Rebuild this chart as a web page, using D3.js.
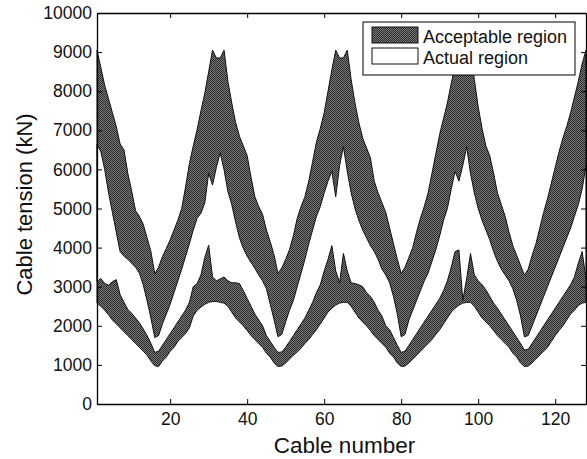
<!DOCTYPE html>
<html>
<head>
<meta charset="utf-8">
<script src="https://cdn.jsdelivr.net/npm/d3@7"></script>
<style>
  body { margin: 0; background: #fff; }
  text { font-family: "Liberation Sans", Arial, sans-serif; fill: #111; }
</style>
</head>
<body>
<div id="chart"></div>
<script>
// data (kN), cable 1..128
const cables = d3.range(1, 129);

const upperAcceptable = [
  9050, 8600, 8150, 7800, 7450, 7100, 6650, 6500, 5900, 5450, 4950, 4800, 4600, 4250, 3900, 3330,
  3500, 3770, 3980, 4200, 4450, 4700, 5000, 5550, 6150, 6600, 7020, 7500, 7950, 8500, 9050, 8850, 8850, 9050,
  8250, 7700, 7200, 6850, 6600, 6350, 5800, 5300, 5050, 4850, 4450, 4150, 3800, 3340,
  3480, 3700, 3950, 4300, 4750, 5050, 5300, 5700, 6200, 6700, 7050, 7450, 8000, 8550, 9050, 8850, 8850, 9050,
  8300, 7700, 7200, 6800, 6550, 6300, 5700, 5400, 5150, 4900, 4500, 4100, 3700, 3340,
  3500, 3750, 4000, 4400, 4750, 5050, 5400, 5900, 6400, 6900, 7300, 7700, 8200, 8650, 9050, 8850, 8850, 9050,
  8300, 7600, 7050, 6600, 6350, 5900, 5400, 5100, 4800, 4400, 4050, 3800, 3550, 3300,
  3450, 3800, 4100, 4500, 4900, 5250, 5650, 6050, 6450, 6800, 7100, 7450, 7850, 8250, 8700, 9050
];
const lowerAcceptable = [
  2580, 2500, 2400, 2280, 2150, 2050, 1950, 1850, 1750, 1650, 1550, 1450, 1350, 1250, 1100, 980,
  960, 1100, 1200, 1350, 1450, 1600, 1700, 1800, 1950, 2250, 2400, 2480, 2550, 2600, 2620, 2620, 2600, 2580,
  2500, 2350, 2200, 2100, 2000, 1880, 1750, 1650, 1550, 1450, 1300, 1200, 1050, 960,
  970, 1050, 1150, 1250, 1330, 1430, 1550, 1650, 1780, 1900, 2050, 2200, 2350, 2450, 2530, 2580, 2600, 2600,
  2500, 2350, 2200, 2100, 2000, 1880, 1750, 1650, 1550, 1450, 1300, 1200, 1050, 960,
  970, 1050, 1150, 1250, 1350, 1450, 1550, 1650, 1780, 1900, 2050, 2200, 2350, 2450, 2530, 2580, 2600, 2600,
  2500, 2350, 2200, 2100, 2000, 1880, 1750, 1650, 1550, 1450, 1300, 1200, 1050, 960,
  970, 1050, 1150, 1250, 1350, 1450, 1600, 1750, 1880, 2000, 2150, 2300, 2400, 2520, 2580, 2600
];
const upperActual = [
  6650, 6450, 6000, 5400, 4900, 4400, 3900, 3780, 3700, 3600, 3500, 3350, 3050, 2650, 2200, 1700,
  1750, 2050, 2300, 2550, 2850, 3150, 3450, 3770, 4100, 4450, 4750, 4880, 5150, 5900, 5600, 6050, 6420, 5990,
  5430, 5100, 4650, 4250, 3980, 3780, 3620, 3470, 3300, 3150, 2950, 2550, 2150, 1720,
  1780, 2100, 2400, 2650, 3000, 3350, 3700, 4100, 4450, 4800, 5050, 5400, 5700, 5950, 5300, 6100, 6580, 5950,
  5400, 5000, 4700, 4450, 4250, 4050, 3900, 3700, 3450, 3300, 3100, 2750, 2300, 1720,
  1780, 2150, 2400, 2650, 2900, 3150, 3350, 3650, 3950, 4300, 4700, 5000, 5500, 5950, 5700, 6100, 6580, 5900,
  5400, 5000, 4700, 4450, 4200, 3900, 3650, 3450, 3300, 3150, 2950, 2650, 2250, 1720,
  1750, 2000, 2250, 2500, 2750, 3000, 3250, 3500, 3750, 4000, 4250, 4500, 4800, 5100, 5500, 6100
];
const lowerActual = [
  3130, 3210, 3080, 3040, 3130, 3180, 2800, 2600, 2420, 2320, 2200, 2080, 1920, 1750, 1550, 1320,
  1350, 1500, 1650, 1800, 1950, 2100, 2250, 2400, 2600, 3000, 3080, 3300, 3750, 4060, 3250, 3150, 3200, 3250,
  3150, 3100, 3100, 3080, 2900, 2700, 2500, 2300, 2150, 2000, 1750, 1600, 1450, 1320,
  1330, 1450, 1600, 1750, 1900, 2050, 2200, 2400, 2600, 2850, 3050, 3400, 3700, 4050, 3400, 3100, 3850, 3400,
  3100, 3080, 3050, 3000, 2850, 2750, 2600, 2400, 2250, 2000, 1900, 1700, 1500, 1320,
  1350, 1500, 1650, 1800, 1950, 2100, 2250, 2400, 2550, 2700, 2900, 3150, 3500, 3900, 3940, 2650, 3200, 3850,
  3300, 3150, 3050, 2920, 2750, 2580, 2450, 2300, 2150, 2000, 1850, 1700, 1550, 1380,
  1400, 1550, 1700, 1850, 2000, 2150, 2300, 2450, 2600, 2750, 2900, 3050, 3250, 3600, 3900, 3200
];

const xTicks = [20, 40, 60, 80, 100, 120];
const yTicks = [0, 1000, 2000, 3000, 4000, 5000, 6000, 7000, 8000, 9000, 10000];
const legendLabels = ["Acceptable region", "Actual region"];

// layout
const W = 587, H = 459;
const margin = {top: 13, right: 1, bottom: 55, left: 97};
const width = W - margin.left - margin.right,
      height = H - margin.top - margin.bottom;

const svg = d3.select("#chart").append("svg")
  .attr("width", W)
  .attr("height", H);

// halftone-ish fill like the printed figure
const defs = svg.append("defs");
const pat = defs.append("pattern")
  .attr("id", "dots")
  .attr("width", 2).attr("height", 2)
  .attr("patternUnits", "userSpaceOnUse");
pat.append("rect").attr("width", 2).attr("height", 2).attr("fill", "#7a7a7a");
pat.append("rect").attr("width", 1).attr("height", 1).attr("fill", "#2b2b2b");
pat.append("rect").attr("x", 1).attr("y", 1).attr("width", 1).attr("height", 1).attr("fill", "#2b2b2b");

const g = svg.append("g")
  .attr("transform", "translate(" + margin.left + "," + margin.top + ")");

const x = d3.scaleLinear().domain([1, 128]).range([0, width]);
const y = d3.scaleLinear().domain([0, 10000]).range([height, 0]);

const rows = cables.map((c, i) => ({
  c: c, U: upperAcceptable[i], L: lowerAcceptable[i], AU: upperActual[i], AL: lowerActual[i]
}));

const accArea = d3.area()
  .x(d => x(d.c))
  .y0(d => y(d.L))
  .y1(d => y(d.U));

const actArea = d3.area()
  .x(d => x(d.c))
  .y0(d => y(d.AL))
  .y1(d => y(d.AU));

g.append("path")
  .datum(rows)
  .attr("d", accArea)
  .attr("fill", "url(#dots)")
  .attr("stroke", "#111")
  .attr("stroke-width", 1);

g.append("path")
  .datum(rows)
  .attr("d", actArea)
  .attr("fill", "#fff")
  .attr("stroke", "#111")
  .attr("stroke-width", 1);

// axes, ticks pointing inward
const axisStyle = sel => {
  sel.select(".domain").attr("stroke", "#000").attr("stroke-width", 1.3);
  sel.selectAll(".tick line").attr("stroke", "#000");
  sel.selectAll("text").attr("font-size", 17.5).attr("fill", "#111");
};

g.append("g")
  .attr("transform", "translate(0," + height + ")")
  .call(d3.axisBottom(x).tickValues(xTicks).tickSize(-5).tickPadding(9).tickSizeOuter(0))
  .call(axisStyle);

g.append("g")
  .call(d3.axisTop(x).tickValues(xTicks).tickSize(-5).tickFormat("").tickSizeOuter(0))
  .call(axisStyle);

g.append("g")
  .call(d3.axisLeft(y).tickValues(yTicks).tickFormat(d3.format("d"))
    .tickSize(-5).tickPadding(5).tickSizeOuter(0))
  .call(axisStyle);

g.append("g")
  .attr("transform", "translate(" + width + ",0)")
  .call(d3.axisRight(y).tickValues(yTicks).tickSize(-5).tickFormat("").tickSizeOuter(0))
  .call(axisStyle);

// axis titles
svg.append("text")
  .attr("x", margin.left + width / 2 + 3)
  .attr("y", 453)
  .attr("text-anchor", "middle")
  .attr("font-size", 22.5)
  .text("Cable number");

svg.append("text")
  .attr("transform", "translate(32," + (margin.top + height / 2 - 4) + ") rotate(-90)")
  .attr("text-anchor", "middle")
  .attr("font-size", 22)
  .text("Cable tension (kN)");

// legend
const lg = svg.append("g").attr("transform", "translate(363,22)");
lg.append("rect")
  .attr("width", 212).attr("height", 53)
  .attr("fill", "#fff").attr("stroke", "#000").attr("stroke-width", 1);

const fills = ["url(#dots)", "#fff"];
legendLabels.forEach((t, i) => {
  lg.append("rect")
    .attr("x", 9).attr("y", 5 + i * 21)
    .attr("width", 46).attr("height", 16)
    .attr("fill", fills[i]).attr("stroke", "#111");
  lg.append("text")
    .attr("x", 60).attr("y", 21 + i * 21)
    .attr("font-size", 18)
    .text(t);
});
</script>
</body>
</html>
